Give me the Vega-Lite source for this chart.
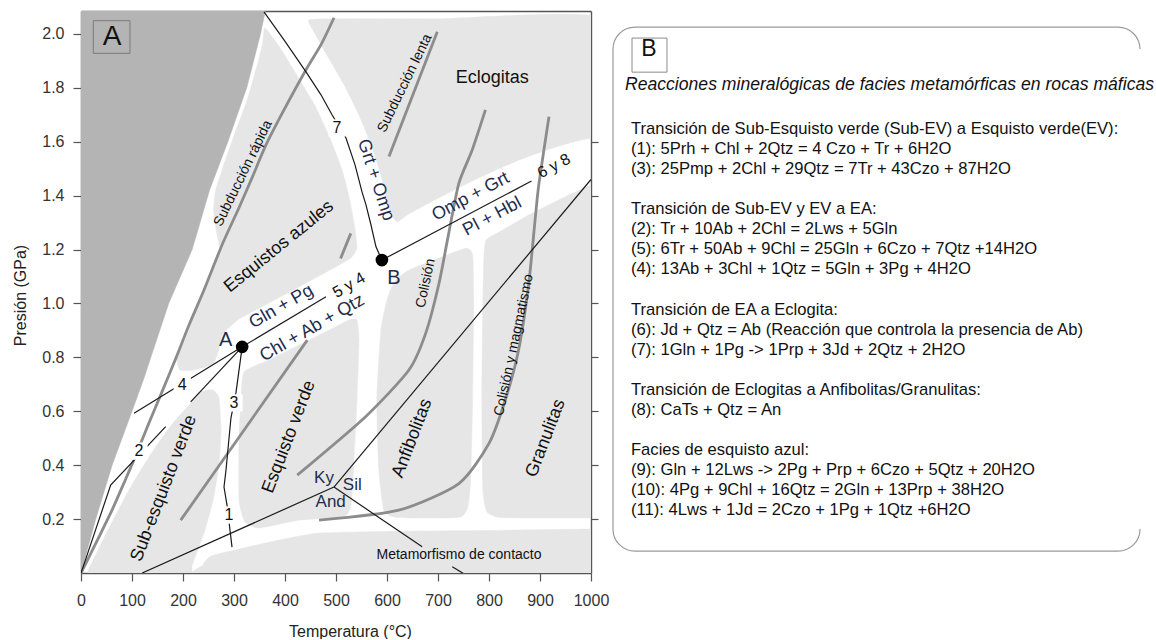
{
"$schema": "https://vega.github.io/schema/vega-lite/v6.json",
"padding": {"left": 12, "top": 11, "right": 0, "bottom": 0},
"spacing": 3,
"config": {
 "font": "Liberation Sans",
 "view": {"stroke": null},
 "axis": {"grid": false, "domainColor": "#555", "domainWidth": 1.4, "tickColor": "#555", "tickWidth": 1.2, "tickSize": 8, "labelFontSize": 16, "labelColor": "#333", "labelFont": "Liberation Sans", "titleFont": "Liberation Sans", "titleFontSize": 16, "titleFontWeight": "normal", "titleColor": "#222", "zindex": 1},
 "text": {"font": "Liberation Sans"}
},
"datasets": {
 "dark": [
  {"i":0,"T":0,"P":0},{"i":1,"T":29,"P":0.2},{"i":2,"T":61,"P":0.4},{"i":3,"T":100,"P":0.6},{"i":4,"T":123,"P":0.72},{"i":5,"T":137,"P":0.8},{"i":6,"T":172,"P":1.0},{"i":7,"T":218,"P":1.2},{"i":8,"T":252,"P":1.42},{"i":9,"T":288,"P":1.6},{"i":10,"T":325,"P":1.8},{"i":11,"T":352,"P":2.0},{"i":12,"T":363,"P":2.1},{"i":13,"T":-20,"P":2.1},{"i":14,"T":-20,"P":0}
 ],
 "fields": [
  {"f":"blue","i":1,"T":360.8,"P":2.022},{"f":"blue","i":2,"T":388,"P":1.955},{"f":"blue","i":3,"T":423,"P":1.848},{"f":"blue","i":4,"T":459,"P":1.733},{"f":"blue","i":5,"T":488,"P":1.614},{"f":"blue","i":6,"T":512,"P":1.495},{"f":"blue","i":7,"T":527,"P":1.384},{"f":"blue","i":8,"T":537,"P":1.28},{"f":"blue","i":9,"T":541,"P":1.206},{"f":"blue","i":10,"T":529,"P":1.169},{"f":"blue","i":11,"T":492,"P":1.128},{"f":"blue","i":12,"T":427,"P":1.061},{"f":"blue","i":13,"T":365,"P":0.998},{"f":"blue","i":14,"T":310,"P":0.942},{"f":"blue","i":15,"T":278,"P":0.886},{"f":"blue","i":16,"T":270,"P":0.827},{"f":"blue","i":17,"T":259,"P":0.775},{"f":"blue","i":18,"T":222,"P":0.753},{"f":"blue","i":19,"T":194,"P":0.753},{"f":"blue","i":20,"T":188,"P":0.798},{"f":"blue","i":21,"T":204,"P":0.865},{"f":"blue","i":22,"T":217,"P":0.931},{"f":"blue","i":23,"T":229,"P":0.987},{"f":"blue","i":24,"T":244,"P":1.05},{"f":"blue","i":25,"T":260,"P":1.124},{"f":"blue","i":26,"T":272,"P":1.198},{"f":"blue","i":27,"T":265,"P":1.272},{"f":"blue","i":28,"T":260,"P":1.347},{"f":"blue","i":29,"T":264,"P":1.421},{"f":"blue","i":30,"T":278,"P":1.503},{"f":"blue","i":31,"T":302,"P":1.633},{"f":"blue","i":32,"T":326,"P":1.756},{"f":"blue","i":33,"T":344,"P":1.874},{"f":"blue","i":34,"T":356,"P":1.963},
  {"f":"eclo","i":1,"T":447,"P":2.052},{"f":"eclo","i":2,"T":506,"P":2.056},{"f":"eclo","i":3,"T":700,"P":2.056},{"f":"eclo","i":4,"T":1030,"P":2.056},{"f":"eclo","i":5,"T":1030,"P":1.6},{"f":"eclo","i":6,"T":1000,"P":1.614},{"f":"eclo","i":7,"T":937,"P":1.584},{"f":"eclo","i":8,"T":859,"P":1.532},{"f":"eclo","i":9,"T":780,"P":1.466},{"f":"eclo","i":10,"T":702,"P":1.392},{"f":"eclo","i":11,"T":643,"P":1.332},{"f":"eclo","i":12,"T":620,"P":1.303},{"f":"eclo","i":13,"T":608,"P":1.332},{"f":"eclo","i":14,"T":600,"P":1.384},{"f":"eclo","i":15,"T":588,"P":1.477},{"f":"eclo","i":16,"T":569,"P":1.588},{"f":"eclo","i":17,"T":545,"P":1.699},{"f":"eclo","i":18,"T":516,"P":1.811},{"f":"eclo","i":19,"T":482,"P":1.922},{"f":"eclo","i":20,"T":457,"P":2.007},
  {"f":"gran","i":1,"T":794,"P":1.235},{"f":"gran","i":2,"T":820,"P":1.265},{"f":"gran","i":3,"T":878,"P":1.328},{"f":"gran","i":4,"T":937,"P":1.384},{"f":"gran","i":5,"T":1000,"P":1.44},{"f":"gran","i":6,"T":1030,"P":1.45},{"f":"gran","i":7,"T":1030,"P":0.204},{"f":"gran","i":8,"T":1000,"P":0.204},{"f":"gran","i":9,"T":900,"P":0.204},{"f":"gran","i":10,"T":820,"P":0.206},{"f":"gran","i":11,"T":796,"P":0.226},{"f":"gran","i":12,"T":788,"P":0.308},{"f":"gran","i":13,"T":786,"P":0.642},{"f":"gran","i":14,"T":788,"P":1.013},{"f":"gran","i":15,"T":790,"P":1.169},
  {"f":"amph","i":1,"T":600,"P":1.013},{"f":"amph","i":2,"T":614,"P":1.08},{"f":"amph","i":3,"T":643,"P":1.124},{"f":"amph","i":4,"T":702,"P":1.169},{"f":"amph","i":5,"T":755,"P":1.205},{"f":"amph","i":6,"T":768,"P":1.18},{"f":"amph","i":7,"T":770,"P":1.013},{"f":"amph","i":8,"T":768,"P":0.642},{"f":"amph","i":9,"T":764,"P":0.345},{"f":"amph","i":10,"T":758,"P":0.241},{"f":"amph","i":11,"T":740,"P":0.206},{"f":"amph","i":12,"T":620,"P":0.206},{"f":"amph","i":13,"T":594,"P":0.233},{"f":"amph","i":14,"T":584,"P":0.382},{"f":"amph","i":15,"T":580,"P":0.642},{"f":"amph","i":16,"T":588,"P":0.901},
  {"f":"green","i":1,"T":319.6,"P":0.746},{"f":"green","i":2,"T":368.6,"P":0.79},{"f":"green","i":3,"T":427.5,"P":0.846},{"f":"green","i":4,"T":486.3,"P":0.901},{"f":"green","i":5,"T":525.5,"P":0.939},{"f":"green","i":6,"T":541.2,"P":0.939},{"f":"green","i":7,"T":545.1,"P":0.865},{"f":"green","i":8,"T":541.2,"P":0.642},{"f":"green","i":9,"T":535.3,"P":0.419},{"f":"green","i":10,"T":529.4,"P":0.252},{"f":"green","i":11,"T":515.7,"P":0.211},{"f":"green","i":12,"T":427.5,"P":0.196},{"f":"green","i":13,"T":349,"P":0.167},{"f":"green","i":14,"T":321.6,"P":0.189},{"f":"green","i":15,"T":309.8,"P":0.27},{"f":"green","i":16,"T":309.8,"P":0.493},{"f":"green","i":17,"T":313.7,"P":0.642},
  {"f":"sub","i":1,"T":12,"P":0},{"f":"sub","i":2,"T":35,"P":0.092},{"f":"sub","i":3,"T":65,"P":0.204},{"f":"sub","i":4,"T":94,"P":0.308},{"f":"sub","i":5,"T":123.5,"P":0.401},{"f":"sub","i":6,"T":153,"P":0.486},{"f":"sub","i":7,"T":182,"P":0.56},{"f":"sub","i":8,"T":212,"P":0.623},{"f":"sub","i":9,"T":237,"P":0.672},{"f":"sub","i":10,"T":259,"P":0.679},{"f":"sub","i":11,"T":270.6,"P":0.649},{"f":"sub","i":12,"T":274.5,"P":0.531},{"f":"sub","i":13,"T":270.6,"P":0.401},{"f":"sub","i":14,"T":259,"P":0.271},{"f":"sub","i":15,"T":243,"P":0.159},{"f":"sub","i":16,"T":227.5,"P":0.077},{"f":"sub","i":17,"T":217.6,"P":0.026},{"f":"sub","i":18,"T":212,"P":-0.03},{"f":"sub","i":19,"T":100,"P":-0.03},{"f":"sub","i":20,"T":12,"P":-0.03},
  {"f":"cont","i":1,"T":241,"P":-0.03},{"f":"cont","i":2,"T":239,"P":0.03},{"f":"cont","i":3,"T":255,"P":0.063},{"f":"cont","i":4,"T":310,"P":0.089},{"f":"cont","i":5,"T":388,"P":0.122},{"f":"cont","i":6,"T":467,"P":0.148},{"f":"cont","i":7,"T":620,"P":0.155},{"f":"cont","i":8,"T":800,"P":0.158},{"f":"cont","i":9,"T":1000,"P":0.163},{"f":"cont","i":10,"T":1030,"P":0.163},{"f":"cont","i":11,"T":1030,"P":-0.03}
 ],
 "paths": [
  {"p":"rapida","i":1,"T":0,"P":0},{"p":"rapida","i":2,"T":35.3,"P":0.134},{"p":"rapida","i":3,"T":60.8,"P":0.233},{"p":"rapida","i":4,"T":84.3,"P":0.334},{"p":"rapida","i":5,"T":107.8,"P":0.438},{"p":"rapida","i":6,"T":133.3,"P":0.557},{"p":"rapida","i":7,"T":158.8,"P":0.672},{"p":"rapida","i":8,"T":186.3,"P":0.798},{"p":"rapida","i":9,"T":211.8,"P":0.92},{"p":"rapida","i":10,"T":241.2,"P":1.05},{"p":"rapida","i":11,"T":276.5,"P":1.217},{"p":"rapida","i":12,"T":309.8,"P":1.355},{"p":"rapida","i":13,"T":335.3,"P":1.466},{"p":"rapida","i":14,"T":362.7,"P":1.588},{"p":"rapida","i":15,"T":398,"P":1.718},{"p":"rapida","i":16,"T":441.2,"P":1.867},{"p":"rapida","i":17,"T":470.6,"P":1.96},{"p":"rapida","i":18,"T":496.1,"P":2.06},
  {"p":"lenta","i":1,"T":603.9,"P":1.545},{"p":"lenta","i":2,"T":698.6,"P":2.008},
  {"p":"azulcorta","i":1,"T":509,"P":1.167},{"p":"azulcorta","i":2,"T":529,"P":1.26},
  {"p":"verde","i":1,"T":195.5,"P":0.196},{"p":"verde","i":2,"T":443.7,"P":0.864},
  {"p":"colision","i":1,"T":424,"P":0.363},{"p":"colision","i":2,"T":558,"P":0.58},{"p":"colision","i":3,"T":643,"P":0.753},{"p":"colision","i":4,"T":676,"P":0.89},{"p":"colision","i":5,"T":702,"P":1.075},{"p":"colision","i":6,"T":721,"P":1.26},{"p":"colision","i":7,"T":741,"P":1.446},{"p":"colision","i":8,"T":767,"P":1.569},{"p":"colision","i":9,"T":793,"P":1.718},
  {"p":"magma","i":1,"T":466.7,"P":0.196},{"p":"magma","i":2,"T":623,"P":0.233},{"p":"magma","i":3,"T":741,"P":0.332},{"p":"magma","i":4,"T":800,"P":0.481},{"p":"magma","i":5,"T":832,"P":0.642},{"p":"magma","i":6,"T":858,"P":0.827},{"p":"magma","i":7,"T":878,"P":1.075},{"p":"magma","i":8,"T":891,"P":1.322},{"p":"magma","i":9,"T":898,"P":1.446},{"p":"magma","i":10,"T":917.6,"P":1.693}
 ],
 "reactions": [
  {"r":"r7","i":1,"T":358.8,"P":2.082},{"r":"r7","i":2,"T":398,"P":1.978},{"r":"r7","i":3,"T":441.2,"P":1.859},{"r":"r7","i":4,"T":470.6,"P":1.774},{"r":"r7","i":5,"T":492.2,"P":1.7},{"r":"r7","i":6,"T":519.6,"P":1.614},{"r":"r7","i":7,"T":537.3,"P":1.514},{"r":"r7","i":8,"T":551,"P":1.414},{"r":"r7","i":9,"T":558.8,"P":1.366},{"r":"r7","i":10,"T":568.6,"P":1.291},{"r":"r7","i":11,"T":578.4,"P":1.21},{"r":"r7","i":12,"T":590,"P":1.161},
  {"r":"rAB","i":1,"T":316,"P":0.839},{"r":"rAB","i":2,"T":480.4,"P":1.025},
  {"r":"rB68","i":1,"T":590,"P":1.161},{"r":"rB68","i":2,"T":883.3,"P":1.454},
  {"r":"r4","i":1,"T":104,"P":0.593},{"r":"r4","i":2,"T":316,"P":0.839},
  {"r":"r5","i":1,"T":215.1,"P":0.635},{"r":"r5","i":2,"T":316,"P":0.839},
  {"r":"r31","i":1,"T":316,"P":0.839},{"r":"r31","i":2,"T":304,"P":0.671},{"r":"r31","i":3,"T":294,"P":0.575},{"r":"r31","i":4,"T":284.3,"P":0.382},{"r":"r31","i":5,"T":280.4,"P":0.319},{"r":"r31","i":6,"T":286.3,"P":0.252},{"r":"r31","i":7,"T":296.1,"P":0.096},
  {"r":"r2","i":1,"T":0,"P":0},{"r":"r2","i":2,"T":58.2,"P":0.326},{"r":"r2","i":3,"T":166.1,"P":0.543},
  {"r":"kyand","i":1,"T":120,"P":0},{"r":"kyand","i":2,"T":496,"P":0.319},
  {"r":"kysil","i":1,"T":496,"P":0.319},{"r":"kysil","i":2,"T":1000,"P":1.46},
  {"r":"andsil","i":1,"T":496,"P":0.319},{"r":"andsil","i":2,"T":669,"P":0.097},
  {"r":"andsil2","i":1,"T":728,"P":0.023},{"r":"andsil2","i":2,"T":757,"P":-0.01}
 ],
 "points": [{"name":"A","T":316,"P":0.839},{"name":"B","T":590,"P":1.161}],
 "labels": [
  {"kind":"rxn30","label":"Gln + Pg","T":392.7,"P":0.988},
  {"kind":"rxn30","label":"Chl + Ab + Qtz","T":453.5,"P":0.908},
  {"kind":"num30","label":"5 y 4","T":525.5,"P":1.068},
  {"kind":"rxn28","label":"Omp + Grt","T":764.1,"P":1.396},
  {"kind":"rxn28","label":"Pl + Hbl","T":806.5,"P":1.322},
  {"kind":"num28","label":"6 y 8","T":927.5,"P":1.51},
  {"kind":"rxn72","label":"Grt + Omp","T":577.8,"P":1.458},
  {"kind":"facies","label":"Anfibolitas","T":649.6,"P":0.5},
  {"kind":"facies","label":"Esquisto verde","T":407.8,"P":0.505},
  {"kind":"facies","label":"Sub-esquisto verde","T":162.7,"P":0.314},
  {"kind":"facies","label":"Granulitas","T":911.2,"P":0.5},
  {"kind":"azul","label":"Esquistos azules","T":388.2,"P":1.211},
  {"kind":"flat","label":"Eclogitas","T":806.5,"P":1.836},
  {"kind":"subd","label":"Subducción rápida","T":318,"P":1.483},
  {"kind":"subd","label":"Subducción lenta","T":635,"P":1.817},
  {"kind":"col","label":"Colisión","T":675.9,"P":1.075},
  {"kind":"col","label":"Colisión y magmatismo","T":849,"P":0.846},
  {"kind":"al","label":"Ky","T":476.5,"P":0.351},
  {"kind":"al","label":"Sil","T":532,"P":0.326},
  {"kind":"al","label":"And","T":489.6,"P":0.264},
  {"kind":"meta","label":"Metamorfismo de contacto","T":741.2,"P":0.066},
  {"kind":"num","label":"1","T":290.2,"P":0.215},
  {"kind":"num","label":"2","T":113.7,"P":0.452},
  {"kind":"num","label":"3","T":300,"P":0.631},
  {"kind":"num","label":"4","T":198.6,"P":0.697},
  {"kind":"num","label":"7","T":502,"P":1.651},
  {"kind":"pt","label":"A","T":283.7,"P":0.864},
  {"kind":"pt","label":"B","T":613.7,"P":1.093},
  {"kind":"box","label":"A","T":60.8,"P":1.989}
 ],
 "notes": [
  {"line":2,"text":"Transición de Sub-Esquisto verde (Sub-EV) a Esquisto verde(EV):"},
  {"line":3,"text":"(1): 5Prh + Chl + 2Qtz = 4 Czo + Tr + 6H2O"},
  {"line":4,"text":"(3): 25Pmp + 2Chl + 29Qtz = 7Tr + 43Czo + 87H2O"},
  {"line":6,"text":"Transición de Sub-EV y EV a EA:"},
  {"line":7,"text":"(2): Tr + 10Ab + 2Chl = 2Lws + 5Gln"},
  {"line":8,"text":"(5): 6Tr + 50Ab + 9Chl = 25Gln + 6Czo + 7Qtz +14H2O"},
  {"line":9,"text":"(4): 13Ab + 3Chl + 1Qtz = 5Gln + 3Pg + 4H2O"},
  {"line":11,"text":"Transición de EA a Eclogita:"},
  {"line":12,"text":"(6): Jd + Qtz = Ab (Reacción que controla la presencia de Ab)"},
  {"line":13,"text":"(7): 1Gln + 1Pg -> 1Prp + 3Jd + 2Qtz + 2H2O"},
  {"line":15,"text":"Transición de Eclogitas a Anfibolitas/Granulitas:"},
  {"line":16,"text":"(8): CaTs + Qtz = An"},
  {"line":18,"text":"Facies de esquisto azul:"},
  {"line":19,"text":"(9): Gln + 12Lws -> 2Pg + Prp + 6Czo + 5Qtz + 20H2O"},
  {"line":20,"text":"(10): 4Pg + 9Chl + 16Qtz = 2Gln + 13Prp + 38H2O"},
  {"line":21,"text":"(11): 4Lws + 1Jd = 2Czo + 1Pg + 1Qtz +6H2O"}
 ],
 "heading": [{"line":0,"text":"Reacciones mineralógicas de facies metamórficas en rocas máficas"}]
},
"hconcat": [
 {
  "width": 510, "height": 562,
  "resolve": {"axis": {"x": "independent", "y": "independent"}},
  "layer": [
   {"layer": [
    {"data": {"name": "dark"},
     "mark": {"type": "line", "interpolate": "linear-closed", "fill": "#b4b4b4", "stroke": "#b4b4b4", "strokeWidth": 0.5, "clip": true},
     "encoding": {
      "x": {"field": "T", "type": "quantitative", "scale": {"domain": [0, 1000], "nice": false, "zero": false},
            "axis": {"values": [0,100,200,300,400,500,600,700,800,900,1000], "format": "d", "title": "Temperatura (°C)", "labelPadding": 11, "titleX": 269, "titleY": 58, "titleBaseline": "middle", "titleAlign": "center", "labelFlush": false, "labelOverlap": false, "domain": true}},
      "y": {"field": "P", "type": "quantitative", "scale": {"domain": [0, 2.085], "nice": false, "zero": false},
            "axis": {"values": [0.2,0.4,0.6,0.8,1.0,1.2,1.4,1.6,1.8,2.0], "format": ".1f", "title": "Presión (GPa)", "labelPadding": 9, "titleX": -61, "titleY": 284, "titleBaseline": "middle", "titleAlign": "center", "titleAngle": 270, "labelFlush": false, "labelOverlap": false, "domain": true}},
      "order": {"field": "i", "type": "quantitative"}
     }},
    {"data": {"name": "fields"},
     "mark": {"type": "line", "interpolate": "cardinal-closed", "tension": 0.5, "fill": "#e6e6e6", "stroke": "#e6e6e6", "strokeWidth": 0.5, "clip": true},
     "encoding": {"x": {"field": "T", "type": "quantitative"}, "y": {"field": "P", "type": "quantitative"}, "detail": {"field": "f"}, "order": {"field": "i", "type": "quantitative"}}},
    {"data": {"name": "paths"},
     "mark": {"type": "line", "interpolate": "cardinal", "tension": 0.3, "stroke": "#8c8c8c", "strokeWidth": 2.8, "clip": true},
     "encoding": {"x": {"field": "T", "type": "quantitative"}, "y": {"field": "P", "type": "quantitative"}, "detail": {"field": "p"}, "order": {"field": "i", "type": "quantitative"}}},
    {"data": {"name": "reactions"},
     "mark": {"type": "line", "interpolate": "linear", "stroke": "#1a1a1a", "strokeWidth": 1.2, "clip": true},
     "encoding": {"x": {"field": "T", "type": "quantitative"}, "y": {"field": "P", "type": "quantitative"}, "detail": {"field": "r"}, "order": {"field": "i", "type": "quantitative"}}},
    {"data": {"values": [{}]},
     "mark": {"type": "rect", "fill": "transparent", "stroke": "#7a7a7a", "strokeWidth": 1},
     "encoding": {"x": {"datum": 24.1, "type": "quantitative"}, "x2": {"datum": 96}, "y": {"datum": 2.049, "type": "quantitative"}, "y2": {"datum": 1.928}}},
    {"data": {"name": "labels"}, "transform": [{"filter": "datum.kind === 'num'"}],
     "mark": {"type": "point", "shape": "square", "size": 300, "filled": true, "fill": "#ffffff", "opacity": 1, "strokeWidth": 0},
     "encoding": {"x": {"field": "T", "type": "quantitative"}, "y": {"field": "P", "type": "quantitative"}}},
    {"data": {"name": "points"},
     "mark": {"type": "circle", "size": 160, "fill": "#000000", "opacity": 1},
     "encoding": {"x": {"field": "T", "type": "quantitative"}, "y": {"field": "P", "type": "quantitative"}}},
    {"data": {"name": "labels"}, "transform": [{"filter": "datum.kind === 'num'"}],
     "mark": {"type": "text", "fontSize": 16, "color": "#111", "align": "center", "baseline": "middle"},
     "encoding": {"x": {"field": "T", "type": "quantitative"}, "y": {"field": "P", "type": "quantitative"}, "text": {"field": "label"}}},
    {"data": {"name": "labels"}, "transform": [{"filter": "datum.kind === 'rxn30'"}],
     "mark": {"type": "text", "fontSize": 18, "color": "#1f2d4d", "align": "center", "baseline": "middle", "angle": -30},
     "encoding": {"x": {"field": "T", "type": "quantitative"}, "y": {"field": "P", "type": "quantitative"}, "text": {"field": "label"}}},
    {"data": {"name": "labels"}, "transform": [{"filter": "datum.kind === 'num30'"}],
     "mark": {"type": "text", "fontSize": 16, "color": "#111", "align": "center", "baseline": "middle", "angle": -30},
     "encoding": {"x": {"field": "T", "type": "quantitative"}, "y": {"field": "P", "type": "quantitative"}, "text": {"field": "label"}}},
    {"data": {"name": "labels"}, "transform": [{"filter": "datum.kind === 'rxn28'"}],
     "mark": {"type": "text", "fontSize": 18, "color": "#1f2d4d", "align": "center", "baseline": "middle", "angle": -28},
     "encoding": {"x": {"field": "T", "type": "quantitative"}, "y": {"field": "P", "type": "quantitative"}, "text": {"field": "label"}}},
    {"data": {"name": "labels"}, "transform": [{"filter": "datum.kind === 'num28'"}],
     "mark": {"type": "text", "fontSize": 16, "color": "#111", "align": "center", "baseline": "middle", "angle": -28},
     "encoding": {"x": {"field": "T", "type": "quantitative"}, "y": {"field": "P", "type": "quantitative"}, "text": {"field": "label"}}},
    {"data": {"name": "labels"}, "transform": [{"filter": "datum.kind === 'rxn72'"}],
     "mark": {"type": "text", "fontSize": 18, "color": "#1f2d4d", "align": "center", "baseline": "middle", "angle": 72},
     "encoding": {"x": {"field": "T", "type": "quantitative"}, "y": {"field": "P", "type": "quantitative"}, "text": {"field": "label"}}},
    {"data": {"name": "labels"}, "transform": [{"filter": "datum.kind === 'facies'"}],
     "mark": {"type": "text", "fontSize": 18, "color": "#111", "align": "center", "baseline": "middle", "angle": -69},
     "encoding": {"x": {"field": "T", "type": "quantitative"}, "y": {"field": "P", "type": "quantitative"}, "text": {"field": "label"}}},
    {"data": {"name": "labels"}, "transform": [{"filter": "datum.kind === 'azul'"}],
     "mark": {"type": "text", "fontSize": 18, "color": "#111", "align": "center", "baseline": "middle", "angle": -39},
     "encoding": {"x": {"field": "T", "type": "quantitative"}, "y": {"field": "P", "type": "quantitative"}, "text": {"field": "label"}}},
    {"data": {"name": "labels"}, "transform": [{"filter": "datum.kind === 'flat'"}],
     "mark": {"type": "text", "fontSize": 18, "color": "#111", "align": "center", "baseline": "middle"},
     "encoding": {"x": {"field": "T", "type": "quantitative"}, "y": {"field": "P", "type": "quantitative"}, "text": {"field": "label"}}},
    {"data": {"name": "labels"}, "transform": [{"filter": "datum.kind === 'subd'"}],
     "mark": {"type": "text", "fontSize": 14, "color": "#111", "align": "center", "baseline": "middle", "angle": -64},
     "encoding": {"x": {"field": "T", "type": "quantitative"}, "y": {"field": "P", "type": "quantitative"}, "text": {"field": "label"}}},
    {"data": {"name": "labels"}, "transform": [{"filter": "datum.kind === 'col'"}],
     "mark": {"type": "text", "fontSize": 14, "color": "#111", "align": "center", "baseline": "middle", "angle": -78},
     "encoding": {"x": {"field": "T", "type": "quantitative"}, "y": {"field": "P", "type": "quantitative"}, "text": {"field": "label"}}},
    {"data": {"name": "labels"}, "transform": [{"filter": "datum.kind === 'al'"}],
     "mark": {"type": "text", "fontSize": 17, "color": "#1f2d4d", "align": "center", "baseline": "middle"},
     "encoding": {"x": {"field": "T", "type": "quantitative"}, "y": {"field": "P", "type": "quantitative"}, "text": {"field": "label"}}},
    {"data": {"name": "labels"}, "transform": [{"filter": "datum.kind === 'meta'"}],
     "mark": {"type": "text", "fontSize": 14, "color": "#111", "align": "center", "baseline": "middle"},
     "encoding": {"x": {"field": "T", "type": "quantitative"}, "y": {"field": "P", "type": "quantitative"}, "text": {"field": "label"}}},
    {"data": {"name": "labels"}, "transform": [{"filter": "datum.kind === 'pt'"}],
     "mark": {"type": "text", "fontSize": 20, "color": "#1f2d4d", "align": "center", "baseline": "middle"},
     "encoding": {"x": {"field": "T", "type": "quantitative"}, "y": {"field": "P", "type": "quantitative"}, "text": {"field": "label"}}},
    {"data": {"name": "labels"}, "transform": [{"filter": "datum.kind === 'box'"}],
     "mark": {"type": "text", "fontSize": 28, "color": "#111", "align": "center", "baseline": "middle"},
     "encoding": {"x": {"field": "T", "type": "quantitative"}, "y": {"field": "P", "type": "quantitative"}, "text": {"field": "label"}}}
   ]},
   {"data": {"values": [{"T": 0, "P": 0}]},
    "mark": {"type": "point", "opacity": 0},
    "encoding": {
     "x": {"field": "T", "type": "quantitative", "axis": {"orient": "top", "labels": false, "ticks": false, "title": null, "domain": true}},
     "y": {"field": "P", "type": "quantitative", "axis": {"orient": "right", "labels": false, "title": null, "tickSize": 7, "values": [0.2,0.4,0.6,0.8,1.0,1.2,1.4,1.6], "domain": true}}
    }}
  ]
 },
 {
  "width": 543, "height": 562,
  "layer": [
   {"data": {"values": [{}]},
    "mark": {"type": "rect", "fill": "transparent", "stroke": "#9a9a9a", "strokeWidth": 1.2, "cornerRadius": 22},
    "encoding": {
     "x": {"datum": 0, "type": "quantitative", "scale": {"domain": [0, 100], "nice": false, "zero": false}, "axis": null},
     "x2": {"datum": 97.05},
     "y": {"datum": -3.09, "type": "quantitative", "scale": {"domain": [-3.89, 24.14], "reverse": true, "nice": false, "zero": false}, "axis": null},
     "y2": {"datum": 23.05}
    }},
   {"data": {"values": [{}]},
    "mark": {"type": "rect", "fill": "#ffffff", "strokeWidth": 0},
    "encoding": {"x": {"datum": 94.66, "type": "quantitative", "axis": null}, "x2": {"datum": 101}, "y": {"datum": -2.0, "type": "quantitative", "axis": null}, "y2": {"datum": 21.95}}},
   {"data": {"values": [{}]},
    "mark": {"type": "rect", "fill": "transparent", "stroke": "#8a8a8a", "strokeWidth": 1},
    "encoding": {"x": {"datum": 3.5, "type": "quantitative", "axis": null}, "x2": {"datum": 9.94}, "y": {"datum": -2.54, "type": "quantitative", "axis": null}, "y2": {"datum": -0.84}}},
   {"data": {"values": [{"label": "B"}]},
    "mark": {"type": "text", "fontSize": 23, "color": "#111", "align": "center", "baseline": "middle"},
    "encoding": {"x": {"datum": 6.63, "type": "quantitative", "axis": null}, "y": {"datum": -2.0, "type": "quantitative", "axis": null}, "text": {"field": "label"}}},
   {"data": {"name": "heading"},
    "mark": {"type": "text", "fontSize": 17.6, "fontStyle": "italic", "color": "#111", "align": "left", "baseline": "middle", "dy": -4},
    "encoding": {"x": {"datum": 2.21, "type": "quantitative", "axis": null}, "y": {"field": "line", "type": "quantitative", "axis": null}, "text": {"field": "text"}}},
   {"data": {"name": "notes"},
    "mark": {"type": "text", "fontSize": 16.6, "color": "#111", "align": "left", "baseline": "middle"},
    "encoding": {"x": {"datum": 3.31, "type": "quantitative", "axis": null}, "y": {"field": "line", "type": "quantitative", "axis": null}, "text": {"field": "text"}}}
  ]
 }
]
}
